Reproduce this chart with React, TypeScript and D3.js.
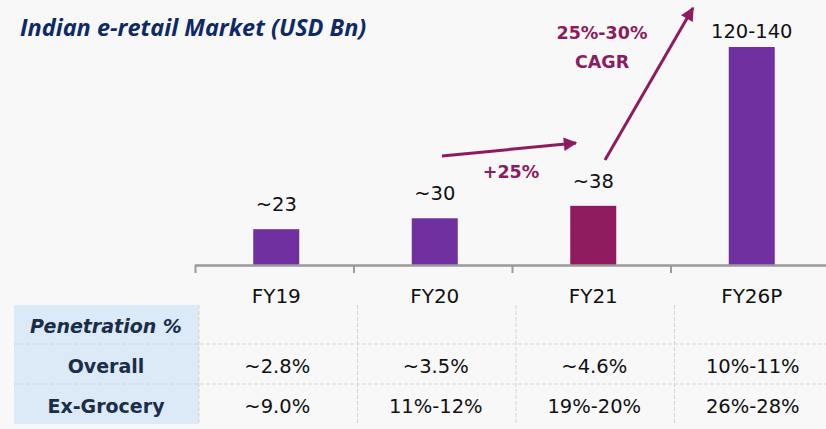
import React from "react";
import * as d3 from "d3";

const categories = ["FY19", "FY20", "FY21", "FY26P"];
const marketValues = [23, 30, 38, 140];
const valueLabels = ["~23", "~30", "~38", "120-140"];
const highlight = ["FY21"];
const rowLabels = ["Overall", "Ex-Grocery"];
const overallPen = ["~2.8%", "~3.5%", "~4.6%", "10%-11%"];
const exGroceryPen = ["~9.0%", "11%-12%", "19%-20%", "26%-28%"];

const W = 826;
const H = 429;
const PURPLE = "#7030a0";
const MAGENTA = "#8e1b5e";
const NAVY = "#0e2a66";
const DARK = "#1a2e48";
const FONT = "'DejaVu Sans', Verdana, sans-serif";

export default function App() {
  const x = d3.scaleBand<string>().domain(categories).range([197, 831]).padding(0);
  const y = d3.scaleLinear().domain([0, 140]).range([265, 47]);
  const barW = 46;
  const rows = [overallPen, exGroceryPen];
  const rowTop = [344, 384];

  const arrows = [
    { x1: 442, y1: 156, x2: 576, y2: 143 },
    { x1: 605, y1: 160, x2: 693, y2: 8 },
  ];

  return (
    <svg width={W} height={H} style={{ position: "absolute", left: 0, top: 0 }}>
      <defs>
        <marker id="ah" viewBox="0 0 10 10" refX="9" refY="5" markerWidth="5" markerHeight="4.5" orient="auto" markerUnits="strokeWidth">
          <path d="M0,0 L10,5 L0,10 Z" fill={MAGENTA} />
        </marker>
      </defs>
      <rect width={W} height={H} fill="#f8f8f8" />
      <text x={20} y={36} fontFamily="'Open Sans', sans-serif" fontStyle="italic" fontWeight={700} fontSize={23.5} fill={NAVY}>
        Indian e-retail Market (USD Bn)
      </text>

      {/* bars */}
      {categories.map((c, i) => {
        const cx = (x(c) as number) + x.bandwidth() / 2;
        const top = y(marketValues[i]);
        return (
          <g key={c}>
            <rect x={cx - barW / 2} y={top} width={barW} height={y(0) - top} fill={highlight.includes(c) ? MAGENTA : PURPLE} />
            <text x={cx} y={Math.max(top - 18, 38)} textAnchor="middle" fontFamily={FONT} fontSize={19.5} fill="#111">
              {valueLabels[i]}
            </text>
            <text x={cx} y={303} textAnchor="middle" fontFamily={FONT} fontSize={20} fill="#111">
              {c}
            </text>
          </g>
        );
      })}

      {/* axis */}
      <line x1={195} x2={W} y1={265.5} y2={265.5} stroke="#9a9a9a" strokeWidth={2.5} />
      {categories.map((c) => (
        <line key={"t" + c} x1={(x(c) as number) - 1.5} x2={(x(c) as number) - 1.5} y1={265} y2={273} stroke="#9a9a9a" strokeWidth={2} />
      ))}

      {/* arrows */}
      {arrows.map((a, i) => (
        <line key={"a" + i} x1={a.x1} y1={a.y1} x2={a.x2} y2={a.y2} stroke={MAGENTA} strokeWidth={3} markerEnd="url(#ah)" />
      ))}
      <text x={511} y={178} textAnchor="middle" fontFamily={FONT} fontWeight={700} fontSize={17.5} fill={MAGENTA}>+25%</text>
      <text x={602} y={39} textAnchor="middle" fontFamily={FONT} fontWeight={700} fontSize={17.5} fill={MAGENTA}>25%-30%</text>
      <text x={602} y={68} textAnchor="middle" fontFamily={FONT} fontWeight={700} fontSize={17.5} fill={MAGENTA}>CAGR</text>

      {/* table */}
      <rect x={14} y={305} width={185} height={119} fill="#dce9f7" />
      <text x={106} y={333} textAnchor="middle" fontFamily={FONT} fontStyle="italic" fontWeight={700} fontSize={19} fill={DARK}>Penetration %</text>
      {rowLabels.map((r, i) => (
        <text key={r} x={106} y={rowTop[i] + 29} textAnchor="middle" fontFamily={FONT} fontWeight={700} fontSize={19} fill={DARK}>{r}</text>
      ))}
      {rowTop.map((t) => (
        <line key={"h" + t} x1={14} x2={W} y1={t} y2={t} stroke="#d4d4d4" strokeWidth={1} strokeDasharray="4,2" />
      ))}
      {categories.map((c) => (
        <line key={"v" + c} x1={(x(c) as number) + 2} x2={(x(c) as number) + 2} y1={305} y2={424} stroke="#d4d4d4" strokeWidth={1} strokeDasharray="4,2" />
      ))}
      {rows.map((row, ri) =>
        row.map((v, ci) => (
          <text key={ri + "-" + ci} x={(x(categories[ci]) as number) + x.bandwidth() / 2 + 1} y={rowTop[ri] + 29} textAnchor="middle" fontFamily={FONT} fontSize={19.5} fill="#111">
            {v}
          </text>
        ))
      )}
    </svg>
  );
}
